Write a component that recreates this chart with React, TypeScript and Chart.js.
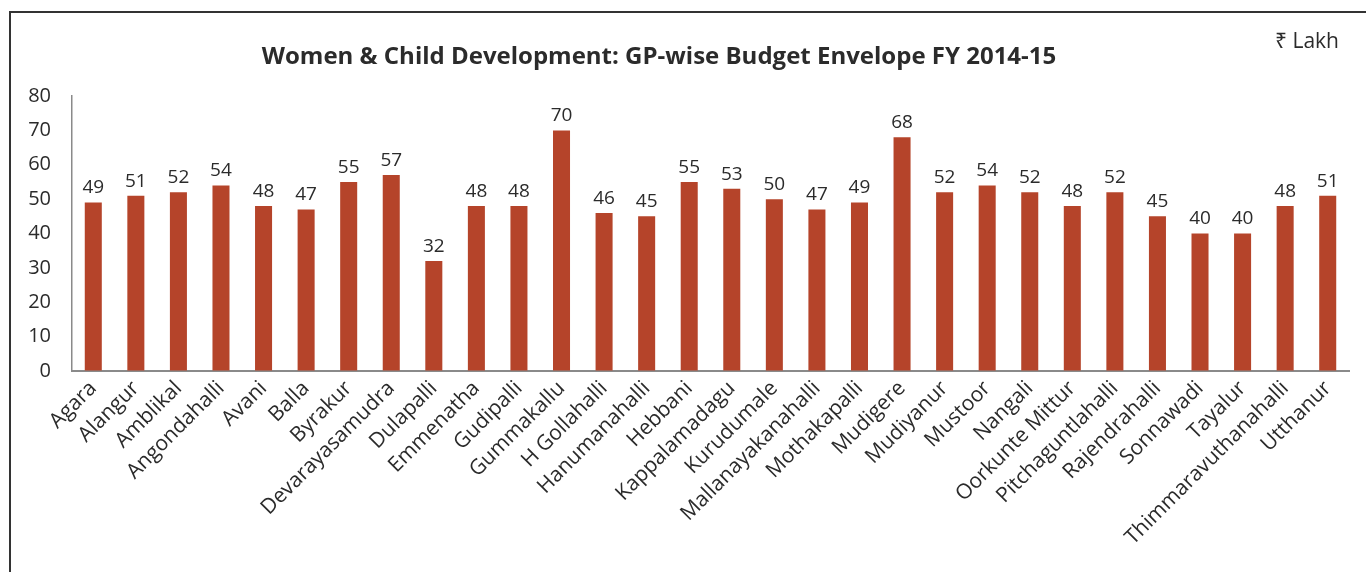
import React, { useEffect, useRef } from "react";
import { Chart, registerables } from "chart.js";

Chart.register(...registerables);

const categories: string[] = [
  "Agara", "Alangur", "Amblikal", "Angondahalli", "Avani", "Balla", "Byrakur",
  "Devarayasamudra", "Dulapalli", "Emmenatha", "Gudipalli", "Gummakallu",
  "H Gollahalli", "Hanumanahalli", "Hebbani", "Kappalamadagu", "Kurudumale",
  "Mallanayakanahalli", "Mothakapalli", "Mudigere", "Mudiyanur", "Mustoor",
  "Nangali", "Oorkunte Mittur", "Pitchaguntlahalli", "Rajendrahalli",
  "Sonnawadi", "Tayalur", "Thimmaravuthanahalli", "Utthanur",
];

const budget: number[] = [
  49, 51, 52, 54, 48, 47, 55, 57, 32, 48, 48, 70, 46, 45, 55, 53, 50, 47, 49, 68,
  52, 54, 52, 48, 52, 45, 40, 40, 48, 51,
];

const yTicks: number[] = [0, 10, 20, 30, 40, 50, 60, 70, 80];

const titleText = "Women & Child Development: GP-wise Budget Envelope FY 2014-15";
const unitText = "\u20B9 Lakh";

const BAR_COLOR = "#B5442A";
const TEXT_COLOR = "#2b2b2b";
const FONT = "'Open Sans', 'Noto Sans', sans-serif";

const overlayPlugin = {
  id: "overlayText",
  afterDatasetsDraw(chart: any) {
    const ctx = chart.ctx;
    ctx.save();
    const meta = chart.getDatasetMeta(0);
    ctx.fillStyle = TEXT_COLOR;
    ctx.font = `19px ${FONT}`;
    ctx.textAlign = "center";
    ctx.textBaseline = "bottom";
    meta.data.forEach((bar: any, i: number) => {
      const v = chart.data.datasets[0].data[i] as number;
      ctx.fillText(String(Math.round(v)), bar.x, bar.y - 5);
    });
    ctx.font = `bold 24px ${FONT}`;
    ctx.textAlign = "center";
    ctx.textBaseline = "middle";
    ctx.fillText(titleText, 659, 57);
    ctx.font = `21px ${FONT}`;
    ctx.textAlign = "right";
    ctx.fillText(unitText, 1339, 42);
    ctx.restore();
  },
};

export default function App() {
  const canvasRef = useRef<HTMLCanvasElement | null>(null);

  useEffect(() => {
    if (!canvasRef.current) return;
    const chart = new Chart(canvasRef.current, {
      type: "bar",
      data: {
        labels: categories,
        datasets: [
          {
            data: budget,
            backgroundColor: BAR_COLOR,
            borderWidth: 0,
            barPercentage: 0.4,
            categoryPercentage: 1,
          },
        ],
      },
      options: {
        responsive: false,
        animation: false,
        layout: { padding: { top: 96, right: 17, left: 0, bottom: 0 } },
        plugins: {
          legend: { display: false },
          title: { display: false },
          tooltip: { enabled: false },
        },
        scales: {
          x: {
            grid: { display: true, drawOnChartArea: false, drawTicks: false },
            border: { display: true, color: "#8a8a8a", width: 2 },
            ticks: {
              autoSkip: false,
              minRotation: 45,
              maxRotation: 45,
              padding: 5,
              color: TEXT_COLOR,
              font: { family: FONT, size: 21 },
            },
            afterFit: (s: any) => {
              s.height = 201;
            },
          },
          y: {
            min: 0,
            max: 80,
            afterBuildTicks: (s: any) => {
              s.ticks = yTicks.map((v) => ({ value: v }));
            },
            grid: { display: true, drawOnChartArea: false, drawTicks: false },
            border: { display: true, color: "#8a8a8a", width: 1.5 },
            ticks: {
              padding: 21,
              color: TEXT_COLOR,
              font: { family: FONT, size: 20 },
            },
            afterFit: (s: any) => {
              s.width = 72;
            },
          },
        },
      },
      plugins: [overlayPlugin],
    });
    return () => chart.destroy();
  }, []);

  return (
    <div style={{ position: "absolute", left: 0, top: 0, width: 1366, height: 572, overflow: "hidden", background: "#fff" }}>
      <canvas ref={canvasRef} width={1366} height={572} style={{ display: "block", position: "absolute", left: 0, top: 0 }} />
      <div
        style={{
          position: "absolute",
          left: 9,
          top: 11,
          width: 1400,
          height: 600,
          borderLeft: "2px solid #333",
          borderTop: "2px solid #333",
          pointerEvents: "none",
        }}
      />
    </div>
  );
}
